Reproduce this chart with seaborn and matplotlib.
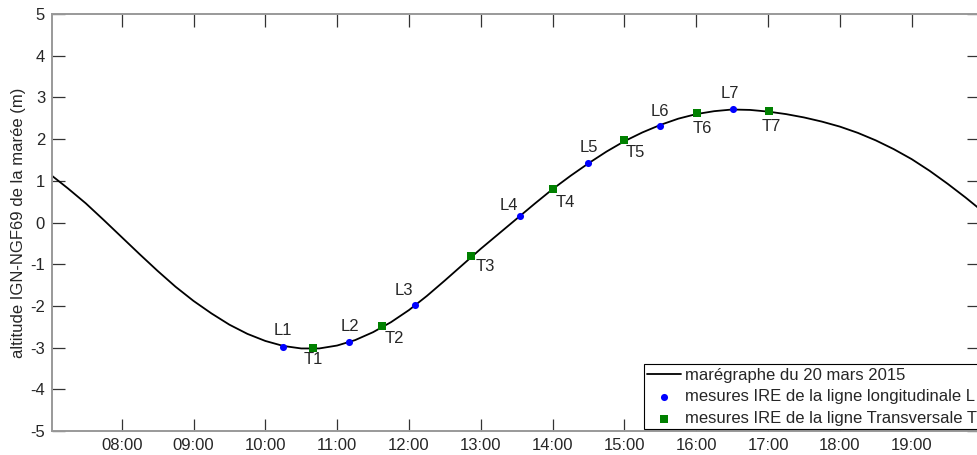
import matplotlib
matplotlib.use('Agg')
import matplotlib.pyplot as plt
import seaborn as sns

# tide gauge curve (hours, metres IGN-NGF69)
tide_hours = [7.03, 7.25, 7.5, 7.75, 8.0, 8.25, 8.5, 8.75, 9.0, 9.25, 9.5, 9.75,
              10.0, 10.25, 10.5, 10.75, 11.0, 11.25, 11.5, 11.75, 12.0, 12.25,
              12.5, 12.75, 13.0, 13.25, 13.5, 13.75, 14.0, 14.25, 14.5, 14.75,
              15.0, 15.25, 15.5, 15.75, 16.0, 16.25, 16.5, 16.75, 17.0, 17.25,
              17.5, 17.75, 18.0, 18.25, 18.5, 18.75, 19.0, 19.25, 19.5, 19.75, 19.95]
tide_level = [1.12, 0.82, 0.46, 0.06, -0.35, -0.76, -1.16, -1.54, -1.88, -2.18,
              -2.45, -2.67, -2.84, -2.96, -3.02, -3.02, -2.95, -2.82, -2.63, -2.39,
              -2.10, -1.76, -1.39, -1.01, -0.63, -0.27, 0.09, 0.45, 0.80, 1.12,
              1.42, 1.70, 1.95, 2.16, 2.34, 2.49, 2.60, 2.67, 2.71, 2.70, 2.66,
              2.60, 2.52, 2.42, 2.30, 2.15, 1.97, 1.76, 1.52, 1.24, 0.93, 0.60, 0.32]

# IRE measurements, longitudinal line L
l_names = ['L1', 'L2', 'L3', 'L4', 'L5', 'L6', 'L7']
l_hours = [10.24, 11.16, 12.08, 13.54, 14.50, 15.50, 16.51]
l_level = [-2.99, -2.87, -1.98, 0.16, 1.43, 2.31, 2.72]

# IRE measurements, transversal line T
t_names = ['T1', 'T2', 'T3', 'T4', 'T5', 'T6', 'T7']
t_hours = [10.67, 11.62, 12.86, 14.00, 15.00, 16.01, 17.01]
t_level = [-3.00, -2.48, -0.80, 0.80, 1.98, 2.63, 2.67]

hour_ticks = [8, 9, 10, 11, 12, 13, 14, 15, 16, 17, 18, 19]
hour_labels = ['08:00', '09:00', '10:00', '11:00', '12:00', '13:00',
               '14:00', '15:00', '16:00', '17:00', '18:00', '19:00']

sns.set_style('white')
plt.rcParams['font.family'] = ['Liberation Sans', 'DejaVu Sans']
plt.rcParams['axes.unicode_minus'] = False

fig = plt.figure(figsize=(9.78, 4.55), dpi=100)
ax = fig.add_axes([0.0532, 0.0527, 0.948, 0.9165])

sns.lineplot(x=tide_hours, y=tide_level, color='black', lw=1.3, ax=ax,
             label='marégraphe du 20 mars 2015')
sns.scatterplot(x=l_hours, y=l_level, color='blue', marker='o', s=26,
                linewidth=0, ax=ax, label='mesures IRE de la ligne longitudinale L', zorder=3)
sns.scatterplot(x=t_hours, y=t_level, color='green', marker='s', s=28,
                linewidth=0, ax=ax, label='mesures IRE de la ligne Transversale T', zorder=3)

# label offsets in pixels
l_off = [(0, 17), (1, 16), (-11, 15), (-11, 10), (0, 15), (0, 15), (-3, 16)]
t_off = [(0, -12), (13, -13), (15, -11), (13, -13), (11, -13), (5, -16), (3, -15)]
for n, x, y, o in zip(l_names, l_hours, l_level, l_off):
    ax.annotate(n, (x, y), xytext=o, textcoords='offset pixels',
                ha='center', va='center', fontsize=12)
for n, x, y, o in zip(t_names, t_hours, t_level, t_off):
    ax.annotate(n, (x, y), xytext=o, textcoords='offset pixels',
                ha='center', va='center', fontsize=12)

ax.set_xlim(7.03, 19.94)
ax.set_ylim(-5, 5)
ax.set_xticks(hour_ticks)
ax.set_xticklabels(hour_labels)
ax.set_yticks(range(-5, 6))
ax.set_ylabel('altitude IGN-NGF69 de la marée (m)', fontsize=12, labelpad=3)
ax.set_xlabel('')
ax.tick_params(direction='in', length=9, width=0.9, color='#333333',
               labelsize=12, top=True, right=True, bottom=True, left=True, pad=5)
for s in ax.spines.values():
    s.set_color('#999999')
    s.set_linewidth(1.4)

leg = ax.legend(loc='lower left', bbox_to_anchor=(0.6386, 0.004), borderaxespad=0,
                fontsize=12, frameon=True, fancybox=False, framealpha=1,
                edgecolor='black', handlelength=2.0, handletextpad=0.25,
                labelspacing=0.4, borderpad=0.2)
leg.get_frame().set_linewidth(0.8)

fig.savefig('out.png', dpi=100)
